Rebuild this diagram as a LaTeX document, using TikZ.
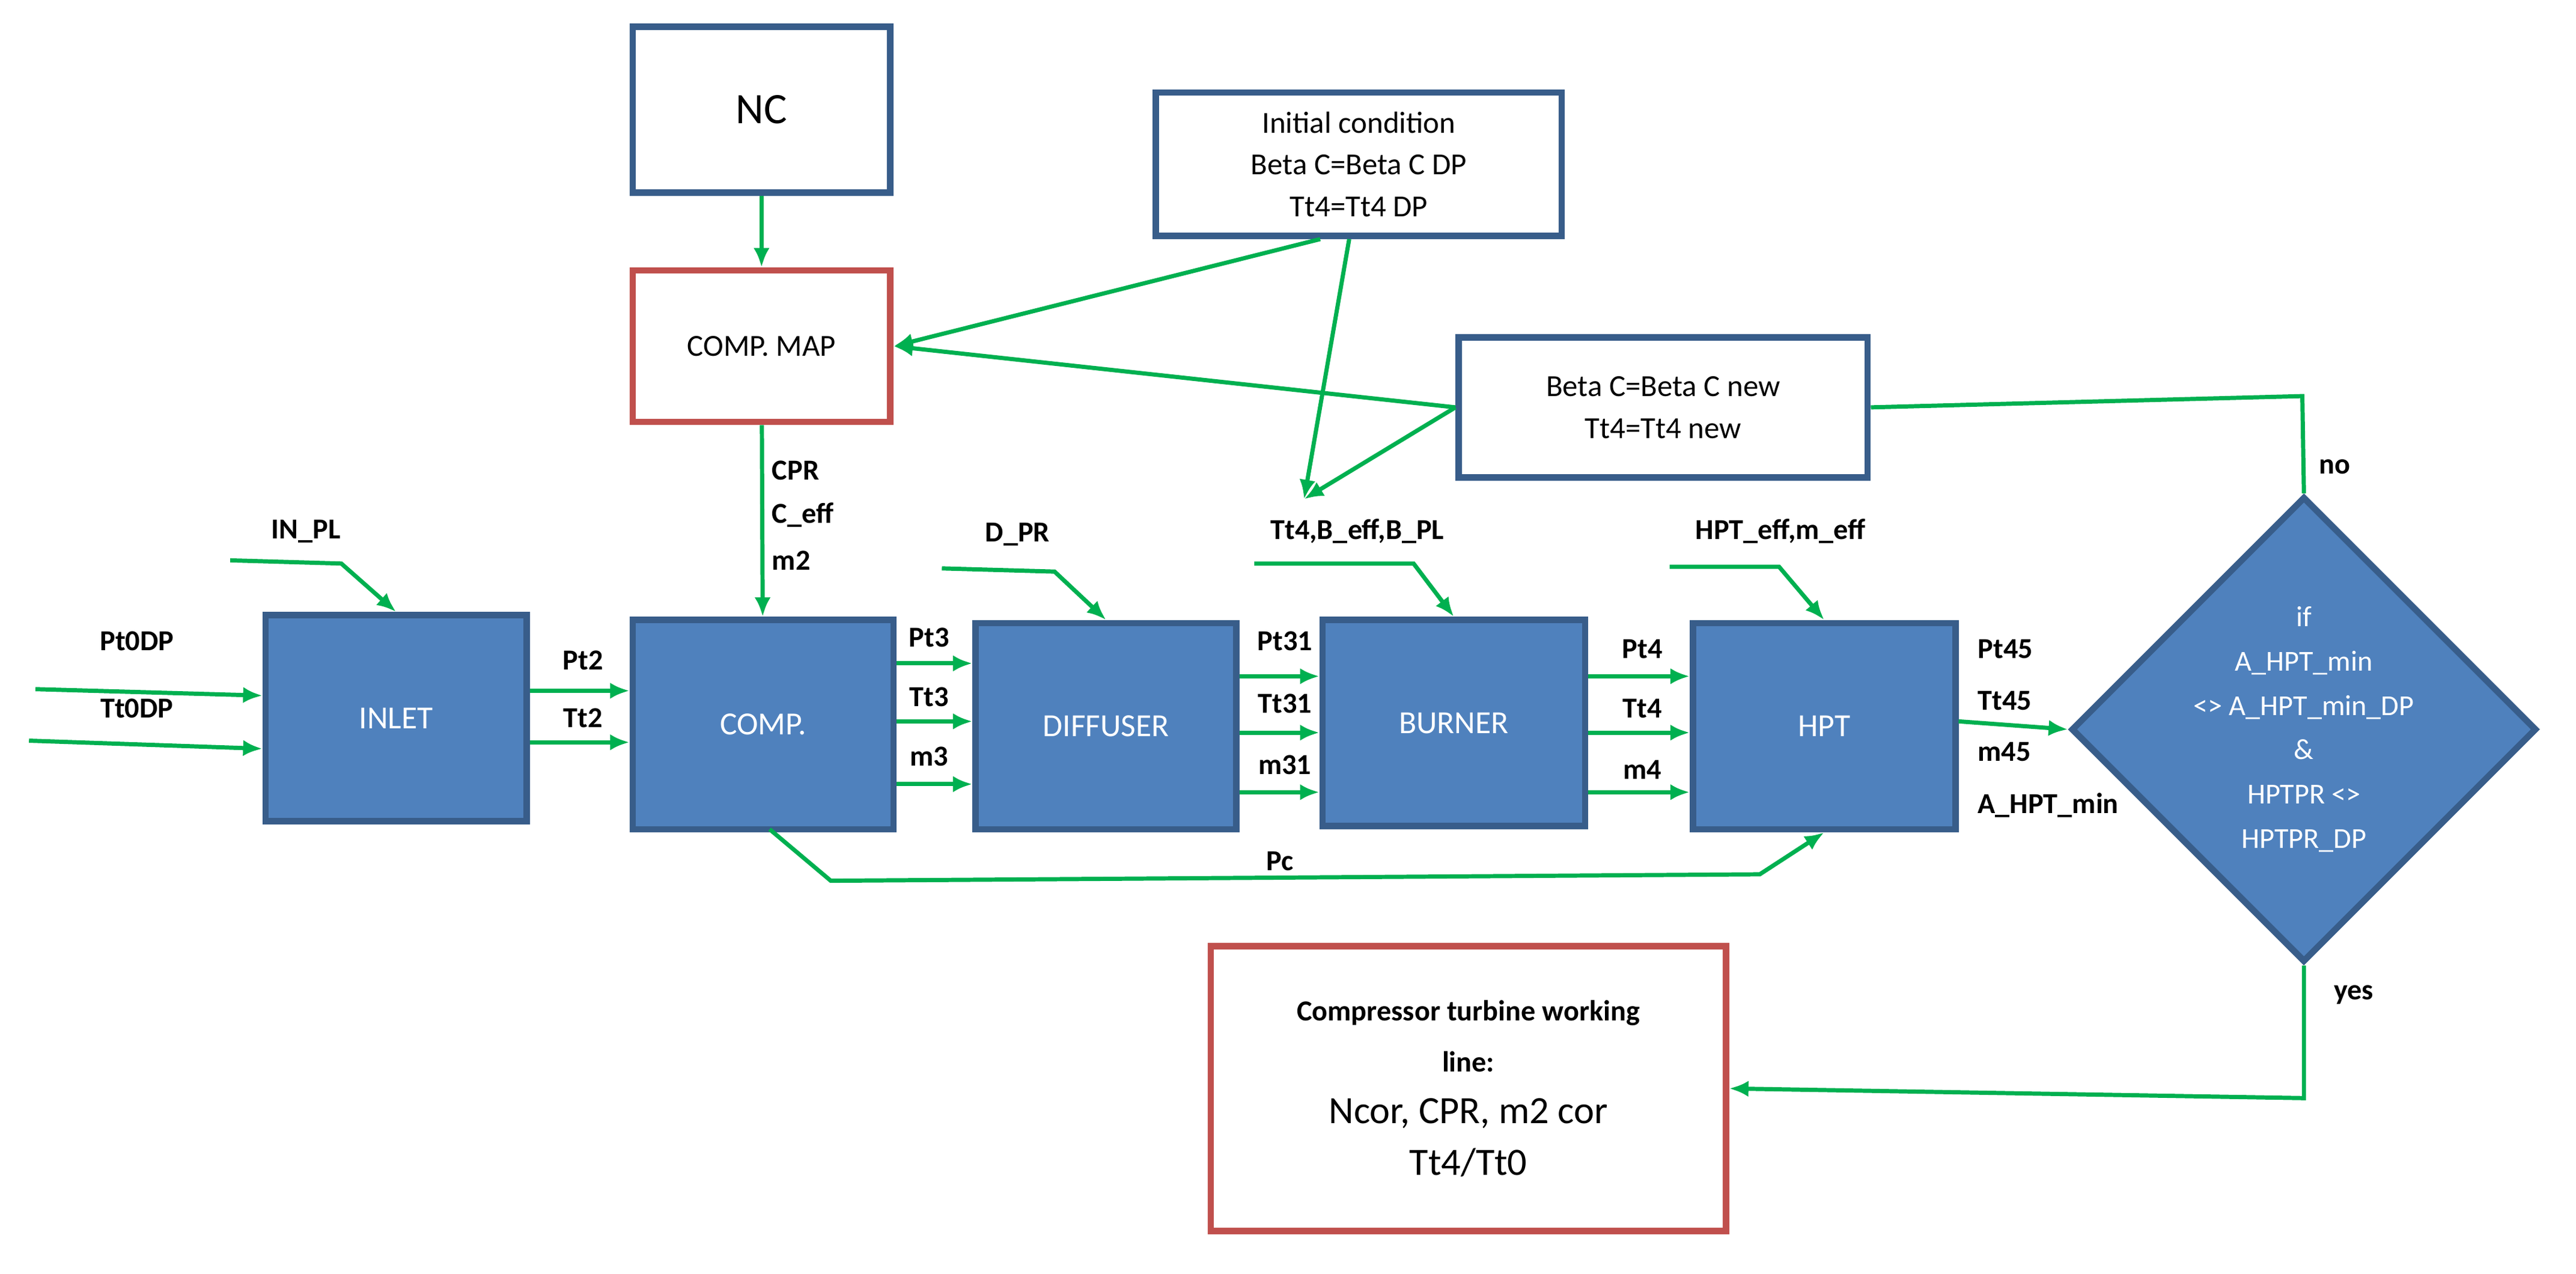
\documentclass[tikz,border=0pt]{standalone}
\usepackage{fontspec}
\setmainfont{Carlito}
\usetikzlibrary{shapes.geometric,arrows.meta}
\definecolor{gr}{HTML}{00B050}
\definecolor{bb}{HTML}{385D8A}
\definecolor{bf}{HTML}{4F81BD}
\definecolor{rd}{HTML}{C0504D}
\begin{document}
\begin{tikzpicture}[x=1pt,y=-1pt,
  wbox/.style={draw=bb,line width=4pt,fill=white,align=center,font=\fontsize{19}{26}\selectfont},
  rbox/.style={draw=rd,line width=4pt,fill=white,align=center,font=\fontsize{19}{26}\selectfont},
  blk/.style={draw=bb,line width=4pt,fill=bf,text=white,font=\fontsize{20}{24}\selectfont},
  ar/.style={draw=gr,line width=2.6pt,-{Latex[length=12pt,width=10pt]}},
  ln/.style={draw=gr,line width=2.6pt},
  lb/.style={font=\bfseries\fontsize{18}{21}\selectfont}]
\useasboundingbox (0,0) rectangle (1600,791);
\node[wbox,minimum width=160,minimum height=103,font=\fontsize{27}{30}\selectfont] (nc) at (473,68) {NC};
\node[rbox,minimum width=160,minimum height=94] (map) at (473,215) {COMP. MAP};
\node[wbox,minimum width=252,minimum height=89] (ic) at (844,102) {Initial condition\\Beta C=Beta C DP\\Tt4=Tt4 DP};
\node[wbox,minimum width=254,minimum height=87] (bn) at (1033,253) {Beta C=Beta C new\\Tt4=Tt4 new};
\node[blk,minimum width=162,minimum height=128] (inlet) at (246,446) {INLET};
\node[blk,minimum width=162,minimum height=130] (comp) at (474,450) {COMP.};
\node[blk,minimum width=162,minimum height=128] (dif) at (687,451) {DIFFUSER};
\node[blk,minimum width=163,minimum height=128] (bur) at (903,449) {BURNER};
\node[blk,minimum width=163,minimum height=128] (hpt) at (1133,451) {HPT};
\node[diamond,draw=bb,line width=4pt,fill=bf,text=white,minimum width=242,minimum height=245,inner sep=0,align=center,font=\fontsize{18}{27.5}\selectfont] (dia) at (1431,453) {if\\A\_HPT\_min\\<> A\_HPT\_min\_DP\\\&\\HPTPR <>\\HPTPR\_DP};
\node[rbox,minimum width=320,minimum height=177,font=\fontsize{18}{32}\selectfont] (res) at (912,676) {\textbf{Compressor turbine working}\\\textbf{line:}\\{\fontsize{24}{32}\selectfont Ncor, CPR, m2 cor}\\{\fontsize{24}{32}\selectfont Tt4/Tt0}};
% coordinates
\coordinate (bin) at (810,310);
\coordinate (a1) at (143,348); \coordinate (a2) at (212,350);
\coordinate (d1) at (585,353); \coordinate (d2) at (655,355);
\coordinate (b1) at (779,350); \coordinate (b2) at (878,350);
\coordinate (h1) at (1037,352); \coordinate (h2) at (1105,352);
\coordinate (p0) at (22,428); \coordinate (t0) at (18,460);
\coordinate (nocor) at (1430,246); \coordinate (yescor) at (1431,682);
\coordinate (pc1) at (516,547); \coordinate (pc2) at (1093,543);
% connectors
\draw[ar] (nc) -- (map);
\draw[ar] (map) -- (comp);
\draw[ar] (ic.south) ++(-24,0) -- (map.east);
\draw[ar] (ic.south) ++(-6,0) -- (bin);
\draw[ar] (bn.west) -- (map.east);
\draw[ar] (bn.west) -- (bin);
\draw[ln] (bn.east) -- (nocor) -- (dia.north);
\draw[ar] (dia.south) -- (yescor) -- (res.east);
\draw[ar] (a1) -- (a2) -- (inlet.north);
\draw[ar] (d1) -- (d2) -- (dif.north);
\draw[ar] (b1) -- (b2) -- (bur.north);
\draw[ar] (h1) -- (h2) -- (hpt.north);
\draw[ar] (p0) -- (inlet.west |- 0,432);
\draw[ar] (t0) -- (inlet.west |- 0,465);
\draw[ar] (inlet.east |- 0,429) -- (comp.west |- 0,429);
\draw[ar] (inlet.east |- 0,461) -- (comp.west |- 0,461);
\foreach \y in {412,448,487} \draw[ar] (comp.east |- 0,\y) -- (dif.west |- 0,\y);
\foreach \y in {420,455,492} \draw[ar] (dif.east |- 0,\y) -- (bur.west |- 0,\y);
\foreach \y in {420,455,492} \draw[ar] (bur.east |- 0,\y) -- (hpt.west |- 0,\y);
\draw[ar] (hpt.east |- 0,448) -- (dia.west);
\draw[ar] (478,515) -- (pc1) -- (pc2) -- (hpt.south);
% labels
\node[lb,anchor=west] at (476,292) {CPR};
\node[lb,anchor=west] at (476,320) {C\_eff};
\node[lb,anchor=west] at (476,348) {m2};
\node[lb] at (190,330) {IN\_PL};
\node[lb] at (632,332) {D\_PR};
\node[lb] at (843,330) {Tt4,B\_eff,B\_PL};
\node[lb] at (1106,330) {HPT\_eff,m\_eff};
\node[lb] at (85,398) {Pt0DP};
\node[lb] at (85,440) {Tt0DP};
\node[lb] at (362,410) {Pt2};
\node[lb] at (362,446) {Tt2};
\node[lb] at (577,396) {Pt3};
\node[lb] at (577,433) {Tt3};
\node[lb] at (577,470) {m3};
\node[lb] at (798,398) {Pt31};
\node[lb] at (798,437) {Tt31};
\node[lb] at (798,475) {m31};
\node[lb] at (1020,403) {Pt4};
\node[lb] at (1020,440) {Tt4};
\node[lb] at (1020,478) {m4};
\node[lb,anchor=west] at (1225,403) {Pt45};
\node[lb,anchor=west] at (1225,435) {Tt45};
\node[lb,anchor=west] at (1225,467) {m45};
\node[lb,anchor=west] at (1225,500) {A\_HPT\_min};
\node[lb] at (795,535) {Pc};
\node[lb] at (1450,290) {no};
\node[lb] at (1462,618) {yes};
\end{tikzpicture}
\end{document}
